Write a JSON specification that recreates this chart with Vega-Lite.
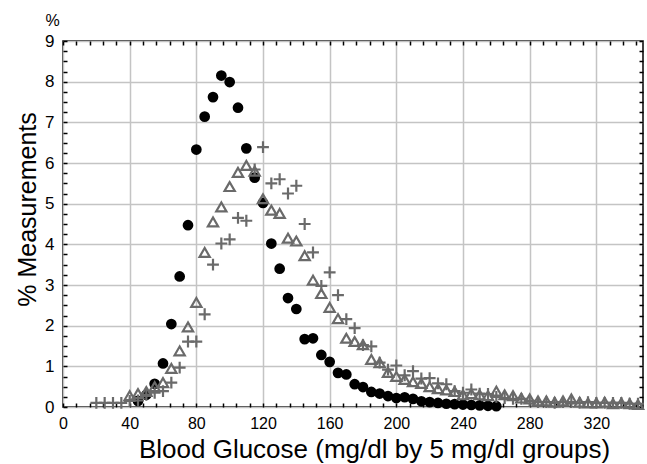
{
  "$schema": "https://vega.github.io/schema/vega-lite/v6.json",
  "width": 580,
  "height": 366,
  "autosize": "none",
  "padding": {"left": 63, "top": 41, "right": 4, "bottom": 57},
  "background": "white",
  "config": {
    "font": "Liberation Sans",
    "view": {"stroke": "black", "strokeWidth": 1.5},
    "axis": {"labelColor": "black", "titleColor": "black", "labelFont": "Liberation Sans", "titleFont": "Liberation Sans", "titleFontWeight": "normal"}
  },
  "data": {"values": [
    {"series": "circle", "g": 45, "pct": 0.15},
    {"series": "circle", "g": 50, "pct": 0.3},
    {"series": "circle", "g": 55, "pct": 0.57},
    {"series": "circle", "g": 60, "pct": 1.07},
    {"series": "circle", "g": 65, "pct": 2.04},
    {"series": "circle", "g": 70, "pct": 3.21},
    {"series": "circle", "g": 75, "pct": 4.47},
    {"series": "circle", "g": 80, "pct": 6.33},
    {"series": "circle", "g": 85, "pct": 7.14},
    {"series": "circle", "g": 90, "pct": 7.62},
    {"series": "circle", "g": 95, "pct": 8.15},
    {"series": "circle", "g": 100, "pct": 7.99},
    {"series": "circle", "g": 105, "pct": 7.36},
    {"series": "circle", "g": 110, "pct": 6.36},
    {"series": "circle", "g": 115, "pct": 5.64},
    {"series": "circle", "g": 120, "pct": 5.02},
    {"series": "circle", "g": 125, "pct": 4.02},
    {"series": "circle", "g": 130, "pct": 3.4},
    {"series": "circle", "g": 135, "pct": 2.68},
    {"series": "circle", "g": 140, "pct": 2.41},
    {"series": "circle", "g": 145, "pct": 1.67},
    {"series": "circle", "g": 150, "pct": 1.69},
    {"series": "circle", "g": 155, "pct": 1.28},
    {"series": "circle", "g": 160, "pct": 1.11},
    {"series": "circle", "g": 165, "pct": 0.84},
    {"series": "circle", "g": 170, "pct": 0.8},
    {"series": "circle", "g": 175, "pct": 0.56},
    {"series": "circle", "g": 180, "pct": 0.49},
    {"series": "circle", "g": 185, "pct": 0.37},
    {"series": "circle", "g": 190, "pct": 0.33},
    {"series": "circle", "g": 195, "pct": 0.27},
    {"series": "circle", "g": 200, "pct": 0.22},
    {"series": "circle", "g": 205, "pct": 0.24},
    {"series": "circle", "g": 210, "pct": 0.2},
    {"series": "circle", "g": 215, "pct": 0.14},
    {"series": "circle", "g": 220, "pct": 0.12},
    {"series": "circle", "g": 225, "pct": 0.1},
    {"series": "circle", "g": 230, "pct": 0.08},
    {"series": "circle", "g": 235, "pct": 0.07},
    {"series": "circle", "g": 240, "pct": 0.06},
    {"series": "circle", "g": 245, "pct": 0.05},
    {"series": "circle", "g": 250, "pct": 0.04},
    {"series": "circle", "g": 255, "pct": 0.03},
    {"series": "circle", "g": 260, "pct": 0.02},
    {"series": "triangle", "g": 40, "pct": 0.28},
    {"series": "triangle", "g": 45, "pct": 0.33},
    {"series": "triangle", "g": 50, "pct": 0.38},
    {"series": "triangle", "g": 55, "pct": 0.5},
    {"series": "triangle", "g": 60, "pct": 0.6},
    {"series": "triangle", "g": 65, "pct": 0.95},
    {"series": "triangle", "g": 70, "pct": 1.38},
    {"series": "triangle", "g": 75, "pct": 1.97},
    {"series": "triangle", "g": 80, "pct": 2.57},
    {"series": "triangle", "g": 85, "pct": 3.8},
    {"series": "triangle", "g": 90, "pct": 4.55},
    {"series": "triangle", "g": 95, "pct": 4.92},
    {"series": "triangle", "g": 100, "pct": 5.42},
    {"series": "triangle", "g": 105, "pct": 5.77},
    {"series": "triangle", "g": 110, "pct": 5.94},
    {"series": "triangle", "g": 115, "pct": 5.8},
    {"series": "triangle", "g": 120, "pct": 5.12},
    {"series": "triangle", "g": 125, "pct": 4.84},
    {"series": "triangle", "g": 130, "pct": 4.76},
    {"series": "triangle", "g": 135, "pct": 4.15},
    {"series": "triangle", "g": 140, "pct": 4.08},
    {"series": "triangle", "g": 145, "pct": 3.72},
    {"series": "triangle", "g": 150, "pct": 3.12},
    {"series": "triangle", "g": 155, "pct": 2.79},
    {"series": "triangle", "g": 160, "pct": 2.45},
    {"series": "triangle", "g": 165, "pct": 2.17},
    {"series": "triangle", "g": 170, "pct": 1.69},
    {"series": "triangle", "g": 175, "pct": 1.61},
    {"series": "triangle", "g": 180, "pct": 1.53},
    {"series": "triangle", "g": 185, "pct": 1.17},
    {"series": "triangle", "g": 190, "pct": 1.09},
    {"series": "triangle", "g": 195, "pct": 0.85},
    {"series": "triangle", "g": 200, "pct": 0.75},
    {"series": "triangle", "g": 205, "pct": 0.68},
    {"series": "triangle", "g": 210, "pct": 0.62},
    {"series": "triangle", "g": 215, "pct": 0.58},
    {"series": "triangle", "g": 220, "pct": 0.5},
    {"series": "triangle", "g": 225, "pct": 0.45},
    {"series": "triangle", "g": 230, "pct": 0.42},
    {"series": "triangle", "g": 235, "pct": 0.38},
    {"series": "triangle", "g": 240, "pct": 0.3},
    {"series": "triangle", "g": 245, "pct": 0.33},
    {"series": "triangle", "g": 250, "pct": 0.3},
    {"series": "triangle", "g": 255, "pct": 0.28},
    {"series": "triangle", "g": 260, "pct": 0.39},
    {"series": "triangle", "g": 265, "pct": 0.3},
    {"series": "triangle", "g": 270, "pct": 0.28},
    {"series": "triangle", "g": 275, "pct": 0.22},
    {"series": "triangle", "g": 280, "pct": 0.2},
    {"series": "triangle", "g": 285, "pct": 0.15},
    {"series": "triangle", "g": 290, "pct": 0.15},
    {"series": "triangle", "g": 295, "pct": 0.12},
    {"series": "triangle", "g": 300, "pct": 0.15},
    {"series": "triangle", "g": 305, "pct": 0.2},
    {"series": "triangle", "g": 310, "pct": 0.12},
    {"series": "triangle", "g": 315, "pct": 0.1},
    {"series": "triangle", "g": 320, "pct": 0.1},
    {"series": "triangle", "g": 325, "pct": 0.12},
    {"series": "triangle", "g": 330, "pct": 0.08},
    {"series": "triangle", "g": 335, "pct": 0.1},
    {"series": "triangle", "g": 340, "pct": 0.08},
    {"series": "triangle", "g": 345, "pct": 0.06},
    {"series": "cross", "g": 20, "pct": 0.1},
    {"series": "cross", "g": 25, "pct": 0.1},
    {"series": "cross", "g": 30, "pct": 0.1},
    {"series": "cross", "g": 35, "pct": 0.1},
    {"series": "cross", "g": 40, "pct": 0.15},
    {"series": "cross", "g": 45, "pct": 0.16},
    {"series": "cross", "g": 50, "pct": 0.3},
    {"series": "cross", "g": 55, "pct": 0.35},
    {"series": "cross", "g": 60, "pct": 0.39},
    {"series": "cross", "g": 65, "pct": 0.6},
    {"series": "cross", "g": 70, "pct": 0.97},
    {"series": "cross", "g": 75, "pct": 1.61},
    {"series": "cross", "g": 80, "pct": 1.61},
    {"series": "cross", "g": 85, "pct": 2.28},
    {"series": "cross", "g": 90, "pct": 3.5},
    {"series": "cross", "g": 95, "pct": 4.02},
    {"series": "cross", "g": 100, "pct": 4.12},
    {"series": "cross", "g": 105, "pct": 4.65},
    {"series": "cross", "g": 110, "pct": 4.58},
    {"series": "cross", "g": 115, "pct": 5.84},
    {"series": "cross", "g": 120, "pct": 6.39},
    {"series": "cross", "g": 125, "pct": 5.5},
    {"series": "cross", "g": 130, "pct": 5.6},
    {"series": "cross", "g": 135, "pct": 5.25},
    {"series": "cross", "g": 140, "pct": 5.44},
    {"series": "cross", "g": 145, "pct": 4.5},
    {"series": "cross", "g": 150, "pct": 3.8},
    {"series": "cross", "g": 155, "pct": 2.98},
    {"series": "cross", "g": 160, "pct": 3.31},
    {"series": "cross", "g": 165, "pct": 2.75},
    {"series": "cross", "g": 170, "pct": 2.16},
    {"series": "cross", "g": 175, "pct": 1.94},
    {"series": "cross", "g": 180, "pct": 1.52},
    {"series": "cross", "g": 185, "pct": 1.49},
    {"series": "cross", "g": 190, "pct": 1.09},
    {"series": "cross", "g": 195, "pct": 0.92},
    {"series": "cross", "g": 200, "pct": 1.02},
    {"series": "cross", "g": 205, "pct": 0.78},
    {"series": "cross", "g": 210, "pct": 0.88},
    {"series": "cross", "g": 215, "pct": 0.7},
    {"series": "cross", "g": 220, "pct": 0.71},
    {"series": "cross", "g": 225, "pct": 0.58},
    {"series": "cross", "g": 230, "pct": 0.56},
    {"series": "cross", "g": 235, "pct": 0.39},
    {"series": "cross", "g": 240, "pct": 0.35},
    {"series": "cross", "g": 245, "pct": 0.43},
    {"series": "cross", "g": 250, "pct": 0.33},
    {"series": "cross", "g": 255, "pct": 0.32},
    {"series": "cross", "g": 260, "pct": 0.25},
    {"series": "cross", "g": 265, "pct": 0.22},
    {"series": "cross", "g": 270, "pct": 0.2},
    {"series": "cross", "g": 275, "pct": 0.2},
    {"series": "cross", "g": 280, "pct": 0.15},
    {"series": "cross", "g": 285, "pct": 0.12},
    {"series": "cross", "g": 290, "pct": 0.12},
    {"series": "cross", "g": 295, "pct": 0.1},
    {"series": "cross", "g": 300, "pct": 0.12},
    {"series": "cross", "g": 305, "pct": 0.12},
    {"series": "cross", "g": 310, "pct": 0.1},
    {"series": "cross", "g": 315, "pct": 0.12},
    {"series": "cross", "g": 320, "pct": 0.1},
    {"series": "cross", "g": 325, "pct": 0.1},
    {"series": "cross", "g": 330, "pct": 0.1},
    {"series": "cross", "g": 335, "pct": 0.1},
    {"series": "cross", "g": 340, "pct": 0.08},
    {"series": "cross", "g": 345, "pct": 0.08}
  ]},
  "resolve": {"axis": {"x": "independent", "y": "independent"}},
  "layer": [
    {
      "transform": [{"filter": "datum.series === 'circle'"}],
      "mark": {"type": "point", "shape": "circle", "filled": true, "color": "black", "size": 115, "opacity": 1},
      "encoding": {
        "x": {"field": "g", "type": "quantitative",
          "scale": {"domain": [0, 348], "nice": false, "zero": false},
          "axis": {"orient": "bottom", "values": [0, 40, 80, 120, 160, 200, 240, 280, 320], "domain": false, "ticks": false,
            "grid": true, "gridColor": "#c4c4c4", "gridWidth": 1.5, "labelFontSize": 16, "labelPadding": 8, "labelFlush": false,
            "title": "Blood Glucose (mg/dl by 5 mg/dl groups)", "titleFontSize": 26, "titleX": 311, "titleY": 50,
            "titleAlign": "center", "titleBaseline": "alphabetic", "titleAnchor": null}},
        "y": {"field": "pct", "type": "quantitative",
          "scale": {"domain": [0, 9], "nice": false},
          "axis": {"orient": "left", "values": [0, 1, 2, 3, 4, 5, 6, 7, 8, 9], "domain": false, "ticks": false,
            "grid": true, "gridColor": "#c4c4c4", "gridWidth": 1.5, "labelFontSize": 17, "labelPadding": 9, "labelFlush": false,
            "title": "% Measurements", "titleFontSize": 25, "titleX": -36, "titleY": 168, "titleAngle": 270,
            "titleAlign": "center", "titleBaseline": "middle"}}
      }
    },
    {
      "transform": [{"filter": "datum.series === 'triangle'"}],
      "mark": {"type": "point", "shape": "triangle-up", "filled": false, "color": "#6a6a6a", "strokeWidth": 2.2, "size": 105, "opacity": 1},
      "encoding": {
        "x": {"field": "g", "type": "quantitative",
          "axis": {"orient": "top", "values": [0, 8, 16, 24, 32, 40, 48, 56, 64, 72, 80, 88, 96, 104, 112, 120, 128, 136, 144, 152, 160, 168, 176, 184, 192, 200, 208, 216, 224, 232, 240, 248, 256, 264, 272, 280, 288, 296, 304, 312, 320, 328, 336, 344],
            "domain": false, "grid": false, "labels": false, "ticks": true, "tickSize": -4, "tickColor": "black", "tickWidth": 1.5, "title": null}},
        "y": {"field": "pct", "type": "quantitative",
          "axis": {"orient": "right", "values": [0, 0.25, 0.5, 0.75, 1, 1.25, 1.5, 1.75, 2, 2.25, 2.5, 2.75, 3, 3.25, 3.5, 3.75, 4, 4.25, 4.5, 4.75, 5, 5.25, 5.5, 5.75, 6, 6.25, 6.5, 6.75, 7, 7.25, 7.5, 7.75, 8, 8.25, 8.5, 8.75, 9],
            "domain": false, "grid": false, "labels": false, "ticks": true, "tickSize": -4, "tickColor": "black", "tickWidth": 1.5, "title": null}}
      }
    },
    {
      "transform": [{"filter": "datum.series === 'cross'"}],
      "mark": {"type": "point", "shape": "M-1,0H1M0,-1V1", "filled": false, "color": "#6a6a6a", "strokeWidth": 2.2, "size": 140, "opacity": 1},
      "encoding": {
        "x": {"field": "g", "type": "quantitative",
          "axis": {"orient": "bottom", "values": [0, 8, 16, 24, 32, 40, 48, 56, 64, 72, 80, 88, 96, 104, 112, 120, 128, 136, 144, 152, 160, 168, 176, 184, 192, 200, 208, 216, 224, 232, 240, 248, 256, 264, 272, 280, 288, 296, 304, 312, 320, 328, 336, 344],
            "domain": false, "grid": false, "labels": false, "ticks": true, "tickSize": -4, "tickColor": "black", "tickWidth": 1.5, "title": null}},
        "y": {"field": "pct", "type": "quantitative",
          "axis": {"orient": "left", "values": [0, 0.25, 0.5, 0.75, 1, 1.25, 1.5, 1.75, 2, 2.25, 2.5, 2.75, 3, 3.25, 3.5, 3.75, 4, 4.25, 4.5, 4.75, 5, 5.25, 5.5, 5.75, 6, 6.25, 6.5, 6.75, 7, 7.25, 7.5, 7.75, 8, 8.25, 8.5, 8.75, 9],
            "domain": false, "grid": false, "labels": false, "ticks": true, "tickSize": -4, "tickColor": "black", "tickWidth": 1.5,
            "title": "%", "titleFontSize": 16, "titleAngle": 0, "titleX": -11, "titleY": -16, "titleAlign": "center", "titleBaseline": "alphabetic"}}
      }
    }
  ]
}
